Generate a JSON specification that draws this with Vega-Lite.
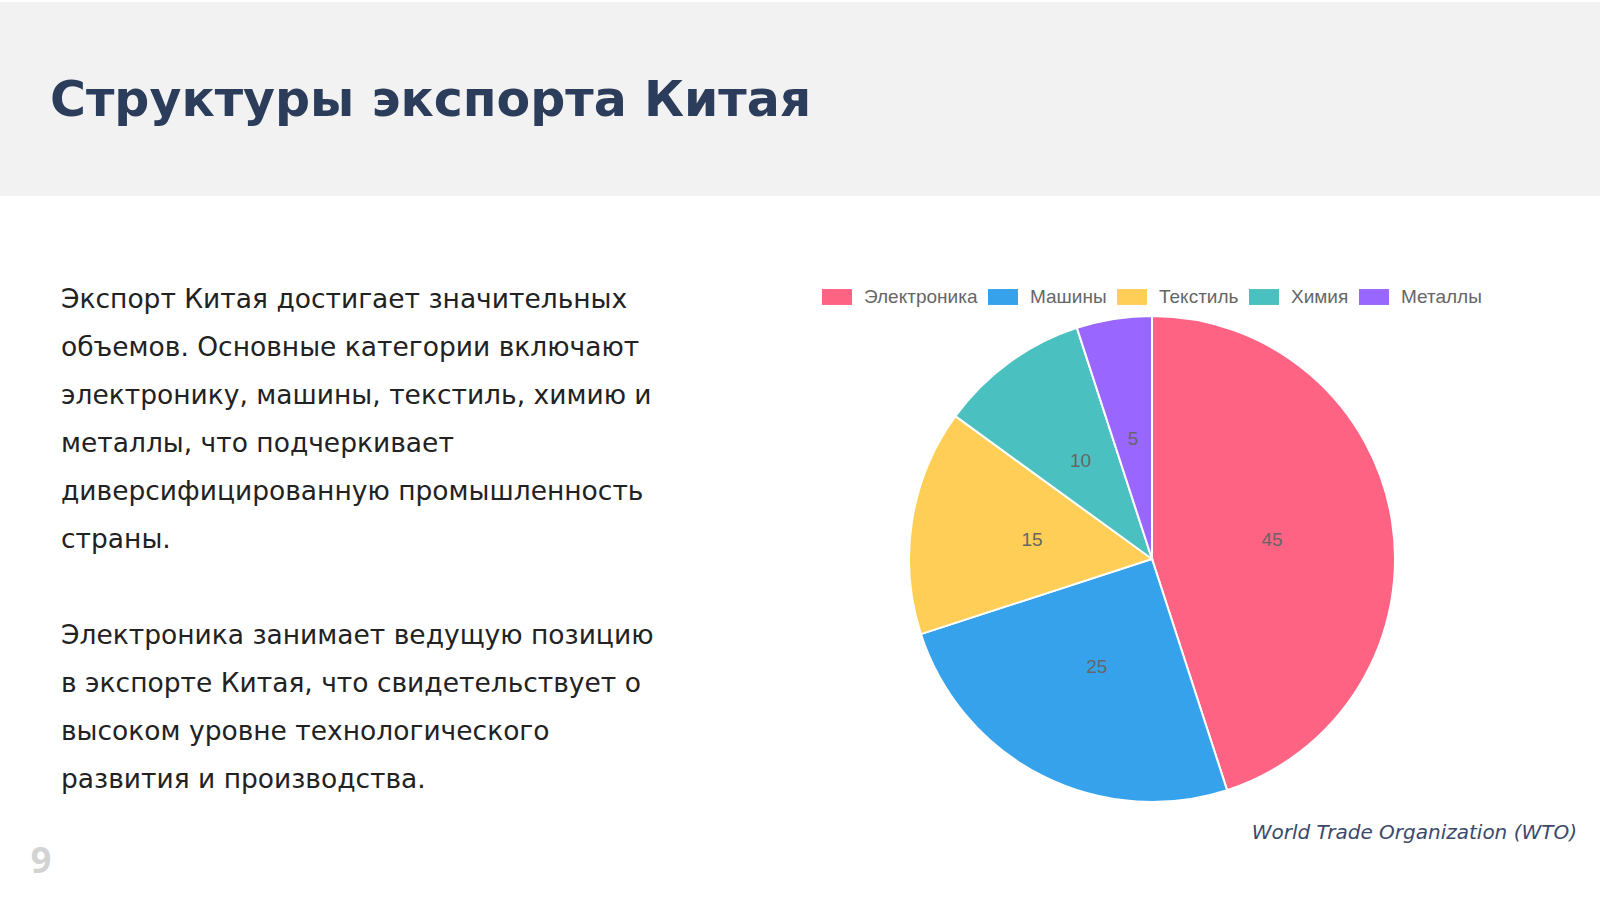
{
  "$schema": "https://vega.github.io/schema/vega-lite/v6.json",
  "width": 1600,
  "height": 900,
  "autosize": {"type": "none"},
  "padding": 0,
  "background": "#ffffff",
  "config": {"view": {"stroke": null}},
  "data": {
    "values": [
      {"category": "Электроника", "value": 45},
      {"category": "Машины", "value": 25},
      {"category": "Текстиль", "value": 15},
      {"category": "Химия", "value": 10},
      {"category": "Металлы", "value": 5}
    ]
  },
  "layer": [
    {
      "data": {"values": [{}]},
      "mark": {"type": "rect", "x": 0, "x2": 1600, "y": 2, "y2": 196, "color": "#f2f2f2"},
      "encoding": {}
    },
    {
      "data": {"values": [{}]},
      "mark": {"type": "text", "x": 50, "y": 116, "align": "left", "baseline": "alphabetic", "font": "DejaVu Sans", "fontWeight": "bold", "fontSize": 49, "color": "#2b3d5b", "text": "Структуры экспорта Китая"},
      "encoding": {}
    },
    {
      "data": {"values": [{}]},
      "mark": {"type": "text", "x": 61, "y": 308, "align": "left", "baseline": "alphabetic", "font": "DejaVu Sans", "fontSize": 26.5, "lineHeight": 48, "color": "#222222",
        "text": ["Экспорт Китая достигает значительных", "объемов. Основные категории включают", "электронику, машины, текстиль, химию и", "металлы, что подчеркивает", "диверсифицированную промышленность", "страны."]},
      "encoding": {}
    },
    {
      "data": {"values": [{}]},
      "mark": {"type": "text", "x": 61, "y": 644, "align": "left", "baseline": "alphabetic", "font": "DejaVu Sans", "fontSize": 26.5, "lineHeight": 48, "color": "#222222",
        "text": ["Электроника занимает ведущую позицию", "в экспорте Китая, что свидетельствует о", "высоком уровне технологического", "развития и производства."]},
      "encoding": {}
    },
    {
      "data": {"values": [{}]},
      "mark": {"type": "text", "x": 1577, "y": 839, "align": "right", "baseline": "alphabetic", "font": "DejaVu Sans", "fontStyle": "italic", "fontSize": 20, "color": "#3b4a6b", "text": "World Trade Organization (WTO)"},
      "encoding": {}
    },
    {
      "data": {"values": [{}]},
      "mark": {"type": "text", "x": 41, "y": 873, "align": "center", "baseline": "alphabetic", "font": "Open Sans", "fontWeight": "bold", "fontSize": 36, "color": "#d3d3d3", "text": "9"},
      "encoding": {}
    },
    {
      "mark": {"type": "arc", "x": 1152, "y": 559, "outerRadius": 243, "stroke": "#ffffff", "strokeWidth": 2},
      "encoding": {
        "theta": {"field": "value", "type": "quantitative", "stack": true},
        "order": {"field": "value", "sort": "descending"},
        "color": {
          "field": "category",
          "type": "nominal",
          "scale": {
            "domain": ["Электроника", "Машины", "Текстиль", "Химия", "Металлы"],
            "range": ["#FF6384", "#36A2EB", "#FFCE56", "#4BC0C0", "#9966FF"]
          },
          "legend": {
            "orient": "none",
            "legendX": 822,
            "legendY": 282,
            "direction": "horizontal",
            "title": null,
            "padding": 0,
            "symbolType": "M-1,-0.53H1V0.53H-1Z",
            "symbolSize": 900,
            "symbolStrokeWidth": 0,
            "symbolOpacity": 1,
            "labelFont": "Liberation Sans",
            "labelFontSize": 19,
            "labelColor": "#666666",
            "labelOffset": 12,
            "columnPadding": 10
          }
        }
      }
    },
    {
      "mark": {"type": "text", "x": 1152, "y": 559, "radius": 121.5, "font": "Liberation Sans", "fontSize": 19, "color": "#666666"},
      "encoding": {
        "theta": {"field": "value", "type": "quantitative", "stack": true},
        "order": {"field": "value", "sort": "descending"},
        "text": {"field": "value", "type": "quantitative"}
      }
    }
  ]
}
